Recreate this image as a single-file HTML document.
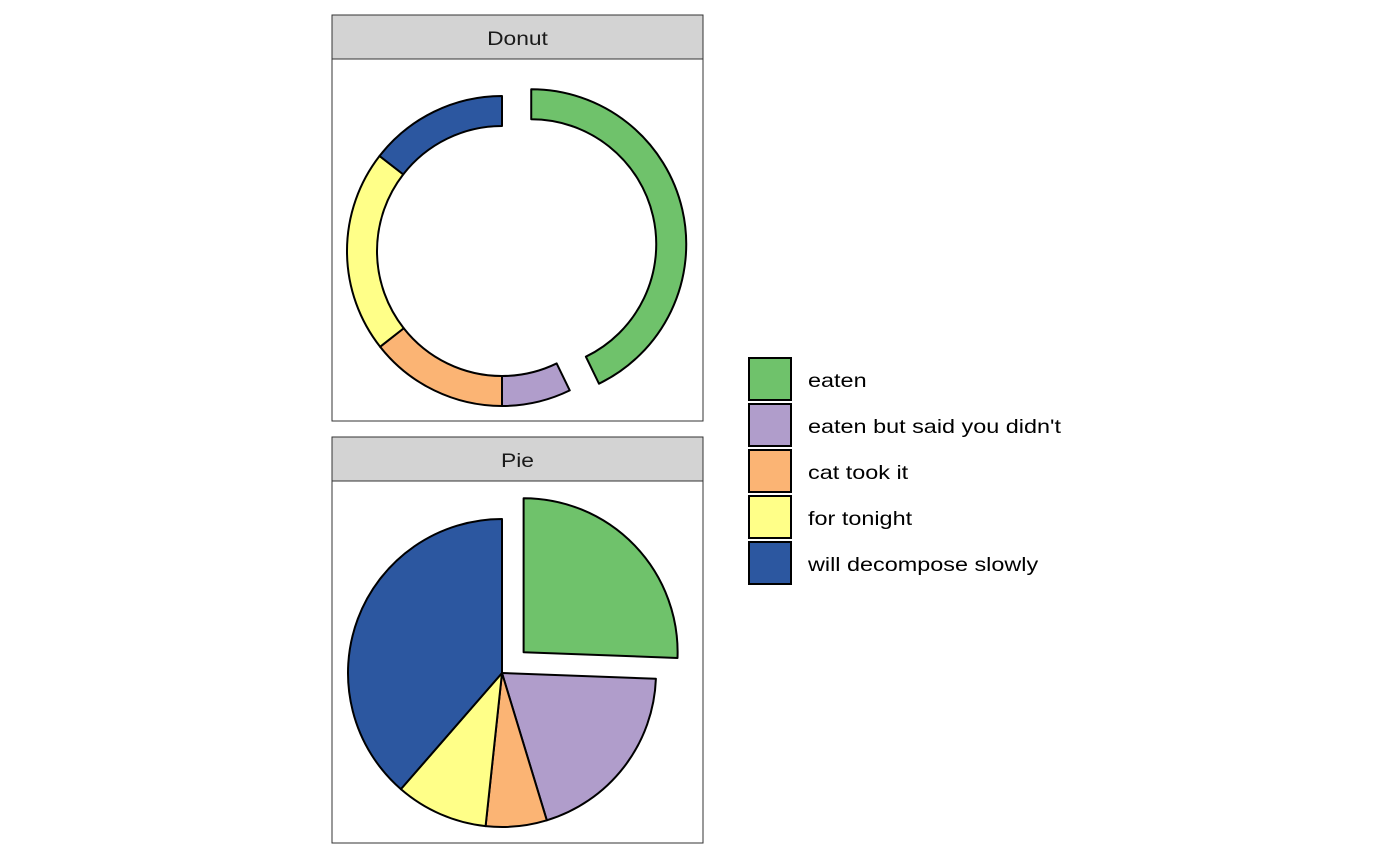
<!DOCTYPE html>
<html><head><meta charset="utf-8"><style>
body{margin:0;background:#fff;}
svg{display:block;font-family:"Liberation Sans",Arial,sans-serif;}
</style></head><body>
<svg id="chart" width="1400" height="866" viewBox="0 0 1400 866">
<rect x="0" y="0" width="1400" height="866" fill="#fff"/>
<g>
<rect x="332" y="15" width="371" height="44" fill="#d3d3d3" stroke="#333" stroke-width="1"/>
<text class="wide" x="517.5" y="45" text-anchor="middle" font-size="19" fill="#1a1a1a">Donut</text>
<rect x="332" y="59" width="371" height="362" fill="#fff" stroke="#333" stroke-width="1"/>
<g id="donut"></g>
</g>
<g>
<rect x="332" y="437" width="371" height="44" fill="#d3d3d3" stroke="#333" stroke-width="1"/>
<text class="wide" x="517.5" y="467" text-anchor="middle" font-size="19" fill="#1a1a1a">Pie</text>
<rect x="332" y="481" width="371" height="362" fill="#fff" stroke="#333" stroke-width="1"/>
<g id="pie"></g>
</g>
<g id="legend"></g>
</svg>
<script>
const categories = ["eaten", "eaten but said you didn't", "cat took it", "for tonight", "will decompose slowly"];
const donutValues = [42.8, 7.2, 14.4, 21.1, 14.5];
const pieValues = [25.6, 19.7, 6.4, 9.7, 38.6];
const colors = ["#6fc26b", "#b09dcb", "#fbb474", "#ffff88", "#2c57a0"];
const explodeIndex = 0;
const NS = "http://www.w3.org/2000/svg";

function pt(cx, cy, r, a) { return [cx + r * Math.sin(a), cy - r * Math.cos(a)]; }

function drawRing(gid, values, cx, cy, rOut, rIn, kind) {
  const g = document.getElementById(gid);
  const total = values.reduce((a, b) => a + b, 0);
  let start = 0;
  values.forEach((v, i) => {
    const a0 = start / total * 2 * Math.PI;
    const a1 = (start + v) / total * 2 * Math.PI;
    start += v;
    let ox = 0, oy = 0;
    if (i === explodeIndex) {
      const m = (a0 + a1) / 2;
      ox = 30 * Math.sin(m); oy = -30 * Math.cos(m);
    }
    const x = cx + ox, y = cy + oy;
    const large = (a1 - a0) > Math.PI ? 1 : 0;
    const p0 = pt(x, y, rOut, a0), p1 = pt(x, y, rOut, a1);
    let d;
    if (rIn > 0) {
      const q1 = pt(x, y, rIn, a1), q0 = pt(x, y, rIn, a0);
      d = `M${p0[0]},${p0[1]} A${rOut},${rOut} 0 ${large} 1 ${p1[0]},${p1[1]} L${q1[0]},${q1[1]} A${rIn},${rIn} 0 ${large} 0 ${q0[0]},${q0[1]} Z`;
    } else {
      d = `M${x},${y} L${p0[0]},${p0[1]} A${rOut},${rOut} 0 ${large} 1 ${p1[0]},${p1[1]} Z`;
    }
    const path = document.createElementNS(NS, "path");
    path.setAttribute("d", d);
    path.setAttribute("fill", colors[i]);
    path.setAttribute("stroke", "#000");
    path.setAttribute("stroke-width", "2");
    path.setAttribute("stroke-linejoin", "round");
    
    
    g.appendChild(path);
  });
}
drawRing("donut", donutValues, 502, 251, 155, 125, "donut");
drawRing("pie", pieValues, 502, 673, 154, 0, "pie");

const lg = document.getElementById("legend");
categories.forEach((c, i) => {
  const y = 358 + i * 46;
  const r = document.createElementNS(NS, "rect");
  r.setAttribute("x", 749); r.setAttribute("y", y);
  r.setAttribute("width", 42); r.setAttribute("height", 42);
  r.setAttribute("fill", colors[i]); r.setAttribute("stroke", "#000"); r.setAttribute("stroke-width", "2");
  
  
  lg.appendChild(r);
  const t = document.createElementNS(NS, "text");
  t.setAttribute("x", 808); t.setAttribute("y", y + 29);
  t.setAttribute("font-size", "19.5"); t.setAttribute("fill", "#000");
  t.setAttribute("class", "wide");
  t.textContent = c;
  
  
  lg.appendChild(t);
});
document.querySelectorAll("text.wide").forEach(t => {
  const w = t.getComputedTextLength();
  t.setAttribute("textLength", (w * 1.2).toFixed(1));
  t.setAttribute("lengthAdjust", "spacingAndGlyphs");
});
</script>
</body></html>
